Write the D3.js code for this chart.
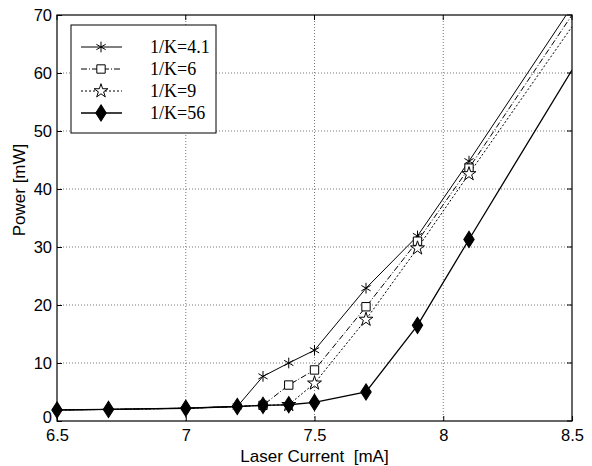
<!DOCTYPE html>
<html>
<head>
<meta charset="utf-8">
<script src="https://cdn.jsdelivr.net/npm/d3@7"></script>
<style>
  body { margin: 0; background: #fff; }
  svg { display: block; }
</style>
</head>
<body>
<svg id="chart" width="592" height="466"></svg>
<script>
// Laser current (mA) at each measured point
const current = [6.5, 6.7, 7.0, 7.2, 7.3, 7.4, 7.5, 7.7, 7.9, 8.1, 8.5];
// Output power (mW) for each feedback ratio 1/K
const powerK41 = [1.9, 2.0, 2.2, 2.5, 7.7, 10.0, 12.2, 22.9, 31.9, 44.8, 71.5];
const powerK6  = [1.9, 2.0, 2.2, 2.5, 2.7, 6.2, 8.8, 19.7, 31.0, 43.6, 70.0];
const powerK9  = [1.9, 2.0, 2.2, 2.5, 2.7, 2.8, 6.5, 17.5, 29.8, 42.6, 68.0];
const powerK56 = [1.9, 2.0, 2.2, 2.5, 2.7, 2.8, 3.2, 5.0, 16.5, 31.3, 60.5];
const seriesNames = ["1/K=4.1", "1/K=6", "1/K=9", "1/K=56"];
const xTicks = [6.5, 7, 7.5, 8, 8.5];
const yTicks = [0, 10, 20, 30, 40, 50, 60, 70];

const svg = d3.select("#chart");
const m = { left: 57, right: 572, top: 15, bottom: 421 };

const x = d3.scaleLinear().domain([6.5, 8.5]).range([m.left, m.right]);
const y = d3.scaleLinear().domain([0, 70]).range([m.bottom, m.top]);

svg.append("defs").append("clipPath").attr("id", "plotClip")
  .append("rect")
  .attr("x", m.left).attr("y", m.top)
  .attr("width", m.right - m.left).attr("height", m.bottom - m.top);

// dotted grid
const grid = svg.append("g");
grid.selectAll(".gx").data(xTicks.slice(1, -1)).join("line")
  .attr("x1", d => x(d)).attr("x2", d => x(d))
  .attr("y1", m.top).attr("y2", m.bottom)
  .attr("stroke", "#555").attr("stroke-width", 0.8).attr("stroke-dasharray", "1,2");
grid.selectAll(".gy").data(yTicks.slice(1, -1)).join("line")
  .attr("x1", m.left).attr("x2", m.right)
  .attr("y1", d => y(d)).attr("y2", d => y(d))
  .attr("stroke", "#555").attr("stroke-width", 0.8).attr("stroke-dasharray", "1,2");

// axes (ticks pointing inward)
const axisFont = "'Liberation Sans', Arial, sans-serif";
const xAxis = svg.append("g").attr("transform", `translate(0,${m.bottom})`)
  .call(d3.axisBottom(x).tickValues(xTicks).tickSize(-5).tickPadding(8).tickFormat(d3.format("")));
const yAxis = svg.append("g").attr("transform", `translate(${m.left},0)`)
  .call(d3.axisLeft(y).tickValues(yTicks).tickSize(-5).tickPadding(5));
[xAxis, yAxis].forEach(a => {
  a.select(".domain").remove();
  a.selectAll("line").attr("stroke", "#000");
  a.selectAll("text").attr("font-family", axisFont).attr("font-size", 16.5).attr("fill", "#000");
});
// lift the zero label a little so it clears the first current label
yAxis.selectAll("text").filter(d => d === 0).attr("dy", "0.1em");
// top and right ticks
svg.append("g").selectAll("line").data(xTicks).join("line")
  .attr("x1", d => x(d)).attr("x2", d => x(d)).attr("y1", m.top).attr("y2", m.top + 5)
  .attr("stroke", "#000");
svg.append("g").selectAll("line").data(yTicks).join("line")
  .attr("x1", m.right).attr("x2", m.right - 5).attr("y1", d => y(d)).attr("y2", d => y(d))
  .attr("stroke", "#000");

// frame
svg.append("rect")
  .attr("x", m.left).attr("y", m.top)
  .attr("width", m.right - m.left).attr("height", m.bottom - m.top)
  .attr("fill", "none").attr("stroke", "#000").attr("stroke-width", 1.2);

// axis titles
svg.append("text").attr("x", (m.left + m.right) / 2).attr("y", 462)
  .attr("text-anchor", "middle").attr("font-family", axisFont).attr("font-size", 17)
  .attr("xml:space", "preserve").text("Laser Current  [mA]");
svg.append("text")
  .attr("transform", `translate(25,190) rotate(-90)`)
  .attr("text-anchor", "middle").attr("font-family", axisFont).attr("font-size", 17)
  .text("Power [mW]");

// markers
const asterisk = d3.symbol().type(d3.symbolAsterisk).size(80);
const square = d3.symbol().type(d3.symbolSquare).size(70);
const star = d3.symbol().type(d3.symbolStar).size(60);
const diamond = d3.symbol().type(d3.symbolDiamond2).size(110);

const series = [
  { name: seriesNames[0], values: powerK41, dash: null,      marker: asterisk, fill: "none", start: 3 },
  { name: seriesNames[1], values: powerK6,  dash: "6,2,1,2", marker: square,   fill: "#fff", start: 4 },
  { name: seriesNames[2], values: powerK9,  dash: "2,2",     marker: star,     fill: "#fff", start: 5 },
  { name: seriesNames[3], values: powerK56, dash: null,      marker: diamond,  fill: "#000", start: 0 }
];

const line = d3.line().x(d => x(d[0])).y(d => y(d[1]));
const plot = svg.append("g").attr("clip-path", "url(#plotClip)");
const markers = svg.append("g");

series.forEach((s, i) => {
  const pts = current.map((c, j) => [c, s.values[j]]);
  plot.append("path").datum(pts)
    .attr("d", line).attr("fill", "none").attr("stroke", "#000")
    .attr("stroke-width", i === 3 ? 1.3 : 1)
    .attr("stroke-dasharray", s.dash);
  // the last point only extends the line to the right edge; it carries no marker
  const shown = pts.slice(s.start, -1);
  markers.selectAll(null).data(shown).join("path")
    .attr("d", s.marker)
    .attr("transform", d => `translate(${x(d[0])},${y(d[1])})` + (s.marker === diamond ? " scale(0.8,1.25)" : ""))
    .attr("fill", s.fill).attr("stroke", "#000").attr("stroke-width", 1);
});

// legend
const lg = svg.append("g");
lg.append("rect").attr("x", 71).attr("y", 25).attr("width", 145).attr("height", 108)
  .attr("fill", "#fff").attr("stroke", "#000").attr("stroke-width", 1);
series.forEach((s, i) => {
  const yy = 47 + i * 22;
  lg.append("line").attr("x1", 81).attr("x2", 122).attr("y1", yy).attr("y2", yy)
    .attr("stroke", "#000").attr("stroke-width", i === 3 ? 1.3 : 1).attr("stroke-dasharray", s.dash);
  lg.append("path").attr("d", s.marker)
    .attr("transform", `translate(101,${yy})` + (s.marker === diamond ? " scale(0.8,1.25)" : ""))
    .attr("fill", s.fill).attr("stroke", "#000");
  lg.append("text").attr("x", 150).attr("y", yy + 6)
    .attr("font-family", "'Liberation Serif', 'Times New Roman', serif").attr("font-size", 18)
    .text(s.name);
});
</script>
</body>
</html>
